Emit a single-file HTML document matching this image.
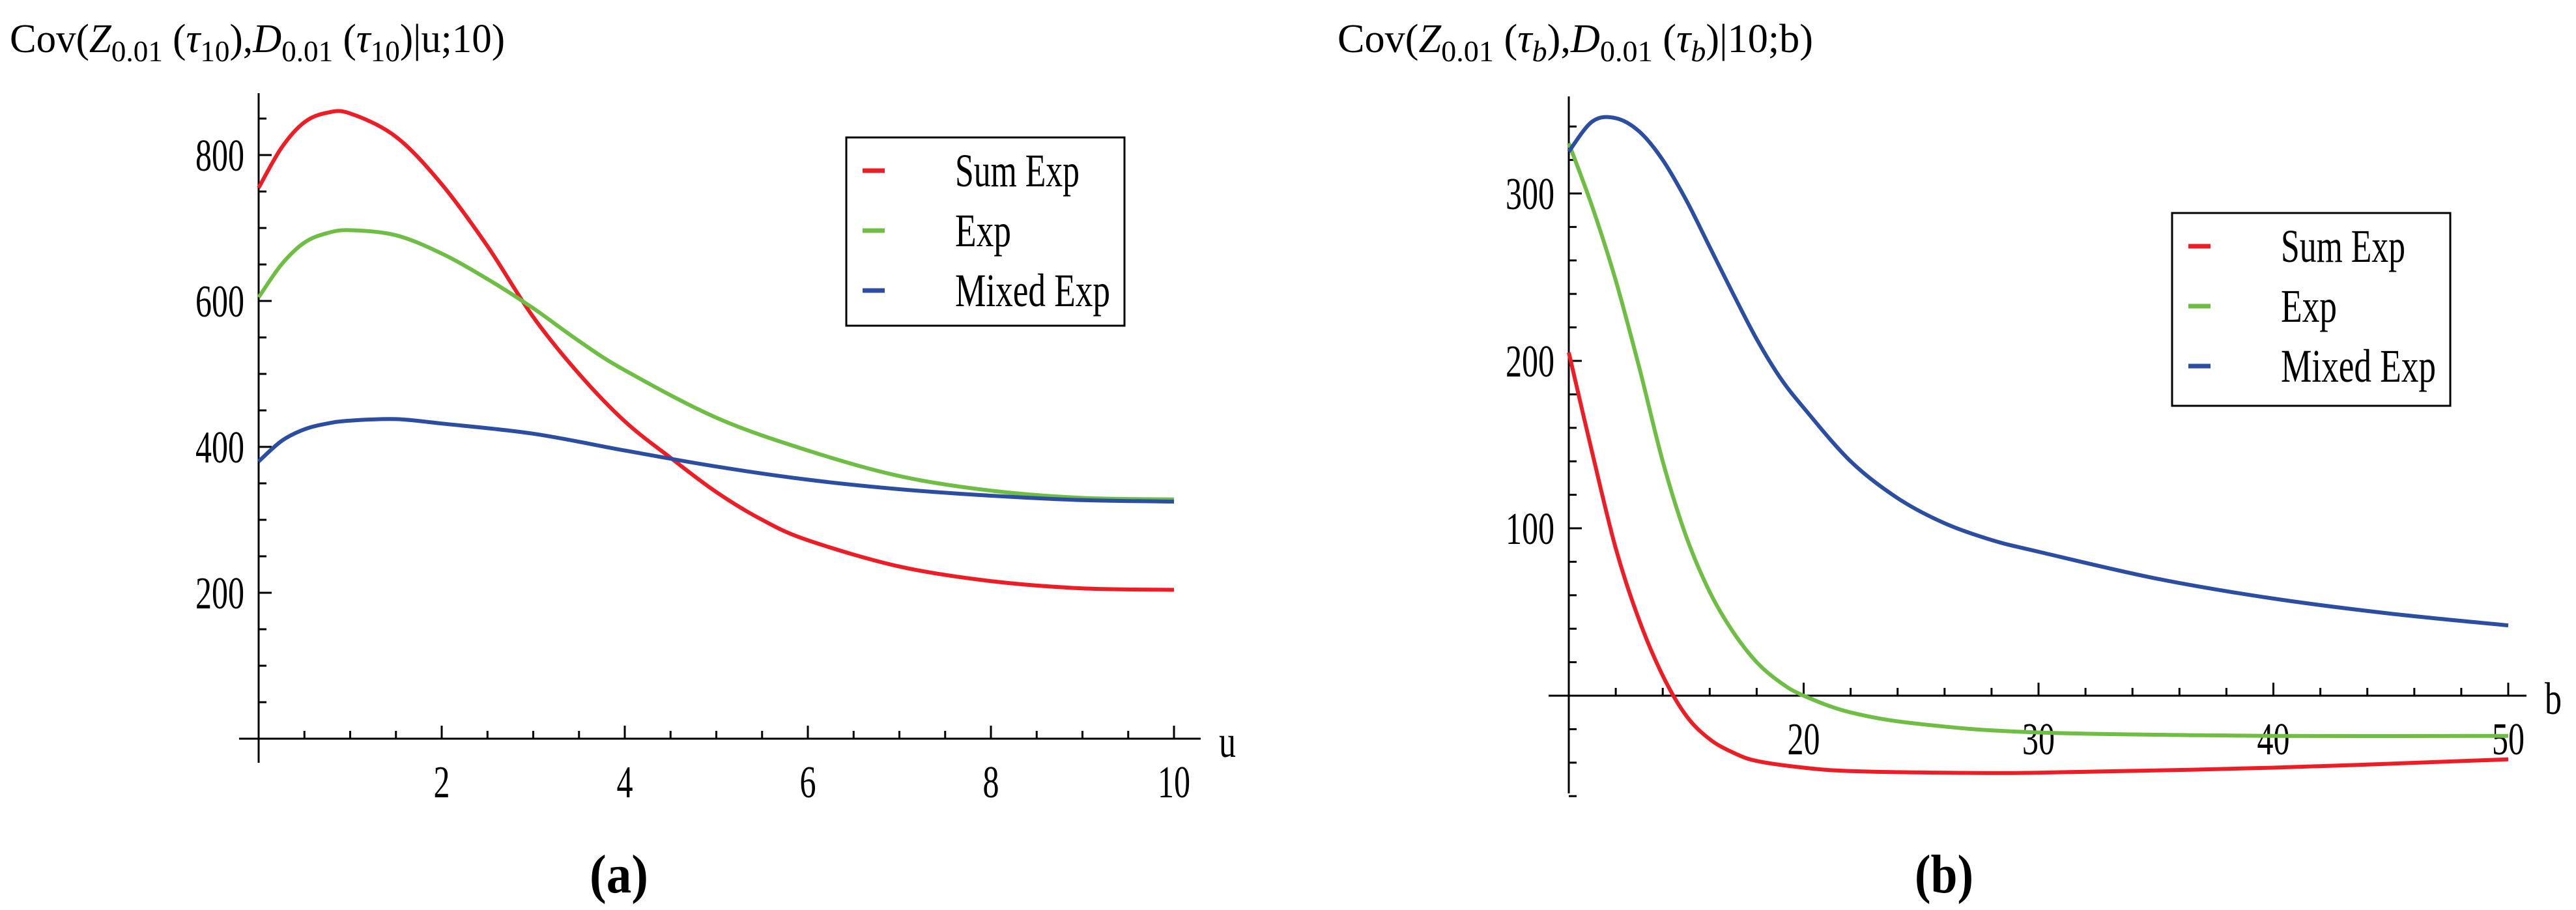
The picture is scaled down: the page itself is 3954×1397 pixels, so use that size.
<!DOCTYPE html>
<html><head><meta charset="utf-8"><style>
html,body{margin:0;padding:0;background:#fff;}
svg{display:block;font-family:"Liberation Serif",serif;}
</style></head><body>
<svg id="fig" width="3954" height="1397" viewBox="0 0 3954 1397">
<g id="A"></g>
<g id="B"></g>
</svg>
<script>
const NS="http://www.w3.org/2000/svg";
// ---- Panel (a) data ----
const uA=[0,0.25,0.5,0.75,1,1.5,2,2.5,3,3.5,4,4.5,5,5.5,6,7,8,9,10];
const sumA=[755,810,845,858,857,825,760,675,578,500,435,385,338,300,272,236,216,206,204];
const expUA=[0,0.25,0.5,0.75,1,1.5,2,2.5,3,3.5,4,5,6,7,8,9,10];
const expA=[605,650,680,693,697,690,665,630,590,545,505,440,395,360,340,330,328];
const mixUA=[0,0.25,0.5,0.75,1,1.5,2,3,4,5,6,7,8,9,10];
const mixA=[380,408,424,432,436,438,432,418,395,373,355,342,333,327,325];
const xTicksA=[2,4,6,8,10];
const yTicksA=[200,400,600,800];
// ---- Panel (b) data ----
const bSum=[10,11,12,13,14,15,16,17,18,20,22,26,30,40,50];
const sumB=[205,145,88,45,12,-12,-26,-34,-39,-43,-45,-46,-46,-43,-38];
const bExp=[10,11,12,13,14,15,16,17,18,19,20,22,25,30,40,50];
const expB=[330,292,248,196,140,95,62,38,20,8,0,-10,-17,-22,-24,-24];
const bMix=[10,11,12,13,14,15,16,17,18,19,20,22,24,26,28,30,35,40,45,50];
const mixB=[325,343,345,337,320,296,268,240,213,190,172,140,118,103,93,86,70,58,49,42];
const xTicksB=[20,30,40,50];
const yTicksB=[100,200,300];
const legendLabels=["Sum Exp","Exp","Mixed Exp"];
const legendWidths=[191,86,238];
const colors=["#ee1c25","#6ebe44","#2b4ea2"];

function el(tag,attrs,parent,text){const e=document.createElementNS(NS,tag);for(const k in attrs)e.setAttribute(k,attrs[k]);if(text!==undefined)e.textContent=text;parent.appendChild(e);return e;}
function smooth(pts){let d="M"+pts[0][0]+","+pts[0][1];for(let i=0;i<pts.length-1;i++){const p0=pts[Math.max(0,i-1)],p1=pts[i],p2=pts[i+1],p3=pts[Math.min(pts.length-1,i+2)];const c1=[p1[0]+(p2[0]-p0[0])/6,p1[1]+(p2[1]-p0[1])/6],c2=[p2[0]-(p3[0]-p1[0])/6,p2[1]-(p3[1]-p1[1])/6];d+=" C"+c1[0].toFixed(1)+","+c1[1].toFixed(1)+" "+c2[0].toFixed(1)+","+c2[1].toFixed(1)+" "+p2[0].toFixed(1)+","+p2[1].toFixed(1);}return d;}

function panel(g,cfg){
  const sx=v=>cfg.x0+(v-cfg.xmin)*cfg.xs, sy=v=>cfg.y0-v*cfg.ys;
  let a=el("line",{x1:cfg.axL,y1:cfg.y0,x2:cfg.axR,y2:cfg.y0,stroke:"#000","stroke-width":3},g);
  
  a=el("line",{x1:cfg.x0,y1:cfg.axT,x2:cfg.x0,y2:cfg.axB,stroke:"#000","stroke-width":3},g);
  
  for(let v=cfg.xmin+cfg.xminor;v<=cfg.xmax+1e-9;v+=cfg.xminor){
    const major=cfg.xTicks.some(t=>Math.abs(t-v)<1e-6);
    el("line",{x1:sx(v),y1:cfg.y0,x2:sx(v),y2:cfg.y0-(major?20:12),stroke:"#000","stroke-width":3},g);
  }
  for(let v=cfg.ymin;v<=cfg.ymax+1e-9;v+=cfg.yminor){
    if(Math.abs(v)<1e-6)continue;
    const major=cfg.yTicks.some(t=>Math.abs(t-v)<1e-6);
    el("line",{x1:cfg.x0,y1:sy(v),x2:cfg.x0+(major?20:12),y2:sy(v),stroke:"#000","stroke-width":3},g);
  }
  cfg.xTicks.forEach(t=>{const s=String(t);const e=el("text",{x:sx(t),y:cfg.y0+90,"font-size":70,"text-anchor":"middle",textLength:s.length*25,lengthAdjust:"spacingAndGlyphs"},g,s);
    });
  cfg.yTicks.forEach(t=>{const s=String(t);const e=el("text",{x:cfg.x0-22-s.length*25,y:sy(t)+24,"font-size":70,textLength:s.length*25,lengthAdjust:"spacingAndGlyphs"},g,s);
    });
  let e=el("text",{x:cfg.axR+28,y:cfg.y0+28,"font-size":70,textLength:26,lengthAdjust:"spacingAndGlyphs"},g,cfg.xlabel);
  
  e=el("text",{x:cfg.tx,y:80,"font-size":62,textLength:cfg.tw,lengthAdjust:"spacingAndGlyphs"},g);
  
  e.innerHTML=cfg.title;
  cfg.series.forEach((s,i)=>{const pts=s[0].map((x,j)=>[sx(x),sy(s[1][j])]);
    const p=el("path",{d:smooth(pts),fill:"none",stroke:colors[i],"stroke-width":6},g);
    
    });
  const L=cfg.leg;
  const lg=el("g",{},g);
  el("rect",{x:L.x,y:L.y,width:L.w,height:L.h,fill:"#fff",stroke:"#000","stroke-width":3},lg);
  legendLabels.forEach((lab,i)=>{const y=L.y+51+i*92;
    const le=el("g",{},lg);
    el("line",{x1:L.x+25,y1:y,x2:L.x+59,y2:y,stroke:colors[i],"stroke-width":7},le);
    el("text",{x:L.x+167,y:y+24,"font-size":72,textLength:legendWidths[i],lengthAdjust:"spacingAndGlyphs"},le,lab);});
  e=el("text",{x:cfg.cx,y:1370,"font-size":84,"font-weight":"bold","text-anchor":"middle",textLength:90,lengthAdjust:"spacingAndGlyphs"},g,cfg.cap);
  
}
panel(document.getElementById("A"),{x0:397,xmin:0,xmax:10,xs:140.5,y0:1134,ys:1.12,axL:367,axR:1843,axT:143,axB:1171,
  xminor:0.5,yminor:50,ymin:0,ymax:850,xTicks:xTicksA,yTicks:yTicksA,xlabel:"u",tx:15,tw:760,
  title:'Cov(<tspan font-style="italic">Z</tspan><tspan font-size="46" dy="14">0.01</tspan><tspan dy="-14"> (</tspan><tspan font-style="italic">τ</tspan><tspan font-size="46" dy="14">10</tspan><tspan dy="-14">),</tspan><tspan font-style="italic">D</tspan><tspan font-size="46" dy="14">0.01</tspan><tspan dy="-14"> (</tspan><tspan font-style="italic">τ</tspan><tspan font-size="46" dy="14">10</tspan><tspan dy="-14">)|u;10)</tspan>',
  series:[[uA,sumA],[expUA,expA],[mixUA,mixA]],leg:{x:1299,y:211,w:427,h:289},cx:950,cap:"(a)"});
panel(document.getElementById("B"),{x0:2408,xmin:10,xmax:50,xs:36.05,y0:1068,ys:2.57,axL:2377,axR:3878,axT:148,axB:1218,
  xminor:2,yminor:20,ymin:-60,ymax:340,xTicks:xTicksB,yTicks:yTicksB,xlabel:"b",tx:2053,tw:730,
  title:'Cov(<tspan font-style="italic">Z</tspan><tspan font-size="46" dy="14">0.01</tspan><tspan dy="-14"> (</tspan><tspan font-style="italic">τ</tspan><tspan font-size="46" font-style="italic" dy="14">b</tspan><tspan dy="-14">),</tspan><tspan font-style="italic">D</tspan><tspan font-size="46" dy="14">0.01</tspan><tspan dy="-14"> (</tspan><tspan font-style="italic">τ</tspan><tspan font-size="46" font-style="italic" dy="14">b</tspan><tspan dy="-14">)|10;b)</tspan>',
  series:[[bSum,sumB],[bExp,expB],[bMix,mixB]],leg:{x:3334,y:327,w:427,h:296},cx:2984,cap:"(b)"});
</script>
</body></html>
